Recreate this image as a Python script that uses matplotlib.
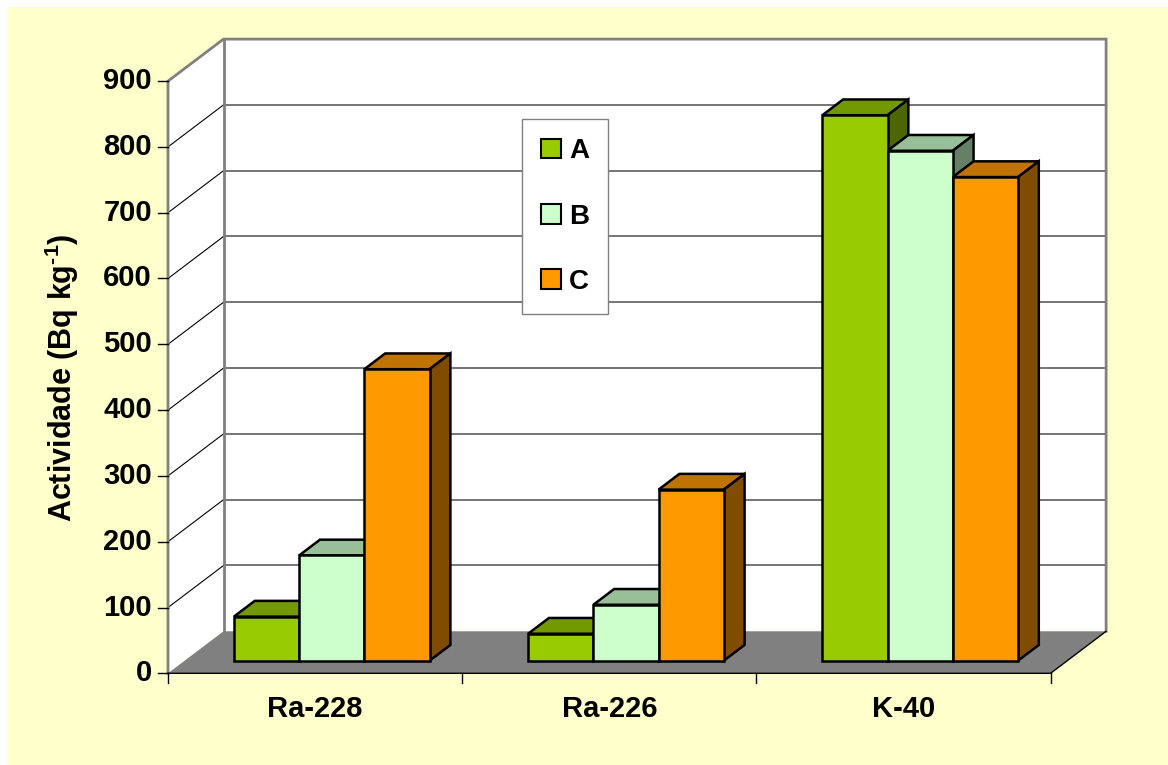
import matplotlib

matplotlib.use("Agg")

import matplotlib.pyplot as plt  # noqa: E402
from matplotlib.patches import Patch, Polygon, Rectangle  # noqa: E402

plt.rcParams["font.family"] = ["Liberation Sans", "DejaVu Sans"]
plt.rcParams["font.weight"] = "bold"
plt.rcParams["mathtext.fontset"] = "custom"
plt.rcParams["mathtext.rm"] = "Liberation Sans:bold"
plt.rcParams["mathtext.it"] = "Liberation Sans:bold"
plt.rcParams["mathtext.bf"] = "Liberation Sans:bold"

# data
categories = ["Ra-228", "Ra-226", "K-40"]
series_names = ["A", "B", "C"]
vals_a = [67, 41, 829]
vals_b = [160, 85, 775]
vals_c = [443, 260, 735]
y_ticks = [0, 100, 200, 300, 400, 500, 600, 700, 800, 900]

front_colors = ["#99CC00", "#CCFFCC", "#FF9900"]
top_colors = ["#739900", "#99BF99", "#BF7300"]
side_colors = ["#4C6600", "#668066", "#804C00"]

W, H = 1168, 765
# pixel geometry of the front floor edge / value scale
PX0, PXW = 168.0, 294.2      # x pixel of category 0, pixels per category
PY0, PYS = 673.3, 0.658      # y pixel of value 0, pixels per value unit
DX, DY = 55.5 / PXW, 42.0 / PYS   # full depth offset in data units
T0, T1 = 0.30, 0.675          # bar depth range (fraction of floor depth)
BAR_W = 0.2217
TOP = y_ticks[-1]
NCAT = len(categories)

fig = plt.figure(figsize=(W / 100, H / 100), dpi=100)
fig.patch.set_facecolor("white")
fig.add_artist(Rectangle((7 / W, 0), 1 - 7 / W, 1 - 7 / H, transform=fig.transFigure,
                         facecolor="#FFFFCC", edgecolor="none", zorder=0))

ax = fig.add_axes((0, 0, 1, 1))
ax.set_xlim(-PX0 / PXW, (W - PX0) / PXW)
ax.set_ylim((PY0 - H) / PYS, PY0 / PYS)
ax.axis("off")

# walls
ax.add_patch(Polygon([(0, 0), (0, TOP), (DX, TOP + DY), (DX, DY)],
                     facecolor="white", edgecolor="none", zorder=1))
ax.add_patch(Rectangle((DX, DY), NCAT, TOP, facecolor="white", edgecolor="none", zorder=1))
for v in y_ticks[1:-1]:
    ax.plot([0, DX], [v, v + DY], color="black", lw=0.8, zorder=2)
    ax.plot([DX, DX + NCAT], [v + DY, v + DY], color="#505050", lw=1.1, zorder=2)
ax.plot([0, 0, DX, DX + NCAT, DX + NCAT], [0, TOP, TOP + DY, TOP + DY, DY],
        color="#808080", lw=2, zorder=3, solid_joinstyle="miter")
ax.plot([DX, DX], [DY, TOP + DY], color="#808080", lw=2, zorder=3)

# floor
ax.add_patch(Polygon([(0, 0), (NCAT, 0), (NCAT + DX, DY), (DX, DY)],
                     facecolor="#808080", edgecolor="none", zorder=3))
ax.plot([0, NCAT, NCAT + DX], [0, 0, DY], color="black", lw=1, zorder=3)

# bars with 3D faces
ddx, ddy = (T1 - T0) * DX, (T1 - T0) * DY
for j, vals in enumerate([vals_a, vals_b, vals_c]):
    xs = [i + 0.5 + (j - 1.5) * BAR_W + T0 * DX for i in range(NCAT)]
    bars = ax.bar(xs, vals, width=BAR_W, bottom=T0 * DY, align="edge",
                  color=front_colors[j], edgecolor="black", lw=1.8, zorder=6)
    for rect in bars.patches:
        x0, y0 = rect.get_xy()
        w, h = rect.get_width(), rect.get_height()
        ax.add_patch(Polygon([(x0, y0 + h), (x0 + w, y0 + h), (x0 + w + ddx, y0 + h + ddy),
                              (x0 + ddx, y0 + h + ddy)], facecolor=top_colors[j],
                             edgecolor="black", lw=1.8, zorder=5, joinstyle="miter"))
        ax.add_patch(Polygon([(x0 + w, y0), (x0 + w + ddx, y0 + ddy),
                              (x0 + w + ddx, y0 + h + ddy), (x0 + w, y0 + h)],
                             facecolor=side_colors[j], edgecolor="black", lw=1.8,
                             zorder=5, joinstyle="miter"))

# value axis
tick_len = 10 / PXW
for v in y_ticks:
    ax.plot([-tick_len, 0], [v, v], color="black", lw=1, zorder=4)
    ax.text(-16 / PXW, v, str(v), ha="right", va="center", fontsize=21,
            fontweight="bold", zorder=4)

# category axis
for i in range(NCAT + 1):
    ax.plot([i, i], [0, -10 / PYS], color="black", lw=1, zorder=4)
for i, cat in enumerate(categories):
    ax.text(i + 0.5, (PY0 - 709) / PYS, cat, ha="center", va="center", fontsize=21,
            fontweight="bold")

ax.text((62 - PX0) / PXW, (PY0 - 378) / PYS, r"Actividade (Bq kg$^{\text{-}1}$)", rotation=90,
        ha="center", va="center", fontsize=22, fontweight="bold")

handles = [Patch(facecolor=c, edgecolor="black", lw=1.5) for c in front_colors]
leg = ax.legend(handles, series_names, loc="upper left",
                bbox_to_anchor=(521.7 / W, 1 - 119.3 / H), bbox_transform=fig.transFigure,
                borderaxespad=0, frameon=True, fancybox=False, framealpha=1,
                edgecolor="#808080", prop={"size": 20, "weight": "bold"},
                handlelength=0.72, handleheight=0.72, handletextpad=0.3,
                labelspacing=1.42, borderpad=0.68)
leg.get_frame().set_linewidth(1)
leg.set_zorder(10)

fig.savefig("out.png", dpi=100, facecolor=fig.get_facecolor())
